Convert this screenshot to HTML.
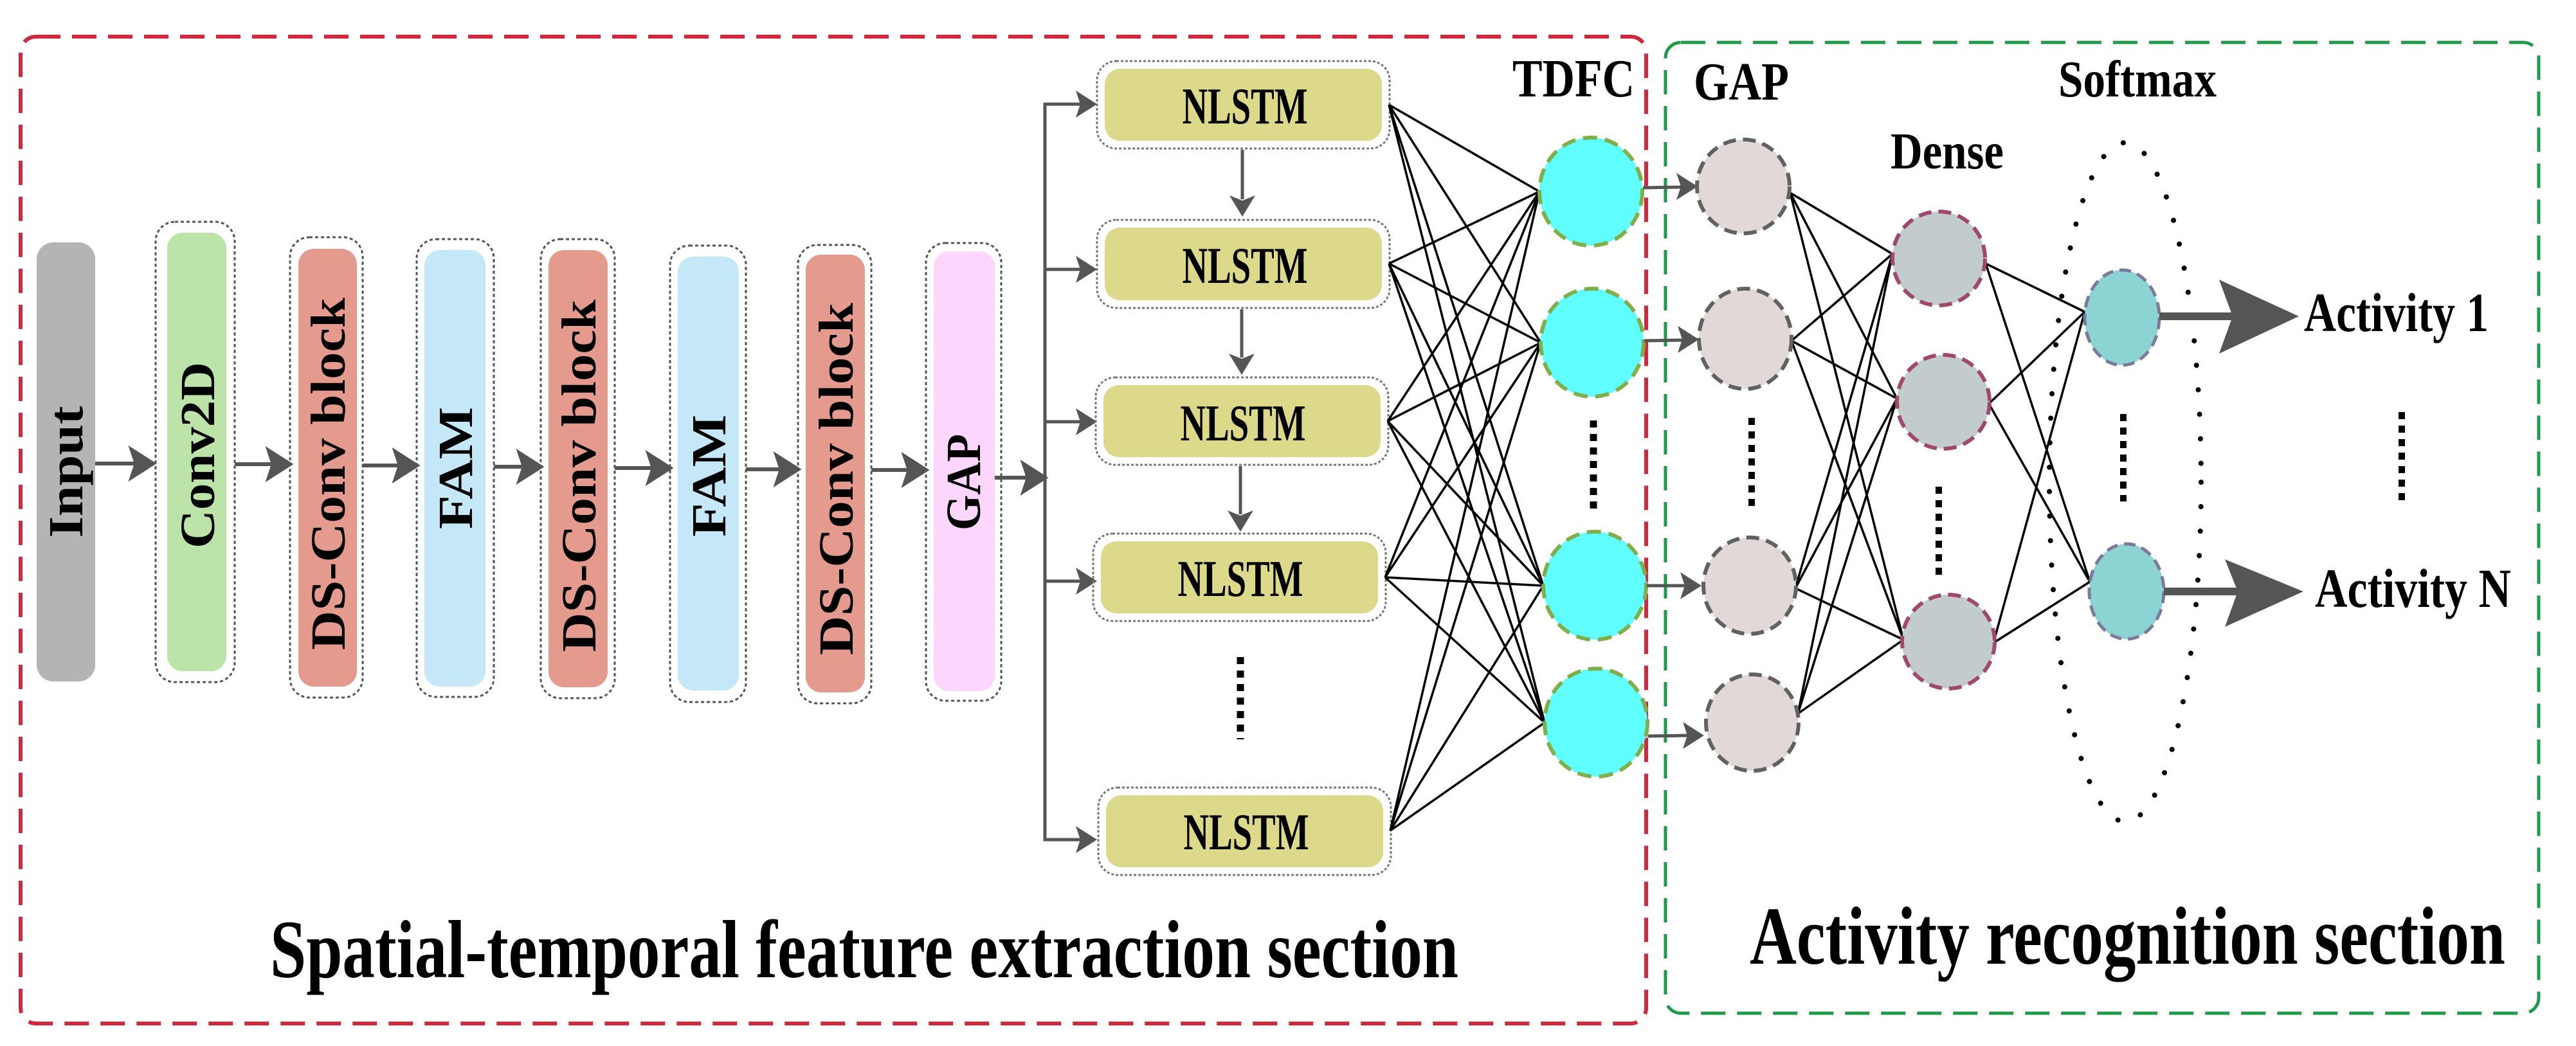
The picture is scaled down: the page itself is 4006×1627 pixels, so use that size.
<!DOCTYPE html>
<html><head><meta charset="utf-8"><style>html,body{margin:0;padding:0;background:#fff}svg{display:block}</style></head>
<body>
<svg width="4006" height="1627" viewBox="0 0 4006 1627" xmlns="http://www.w3.org/2000/svg" font-family="Liberation Serif, serif" font-weight="bold">
<defs>
<marker id="ah" markerWidth="10" markerHeight="10" refX="9" refY="5" orient="auto" markerUnits="userSpaceOnUse" viewBox="0 0 10 10" style="overflow:visible">
</marker>
</defs>
<rect width="4006" height="1627" fill="#fff"/>
<!-- section boxes -->
<rect x="32" y="57" width="2528" height="1535" rx="24" fill="none" stroke="#d0283c" stroke-width="6" stroke-dasharray="38 18"/>
<rect x="2590" y="66" width="1358" height="1510" rx="24" fill="none" stroke="#1f9a4a" stroke-width="5" stroke-dasharray="38 18"/>

<!-- vertical blocks -->
<rect x="57" y="377" width="91" height="683" rx="26" fill="#b4b4b4"/>
<rect x="242" y="345" width="123" height="716" rx="30" fill="none" stroke="#555" stroke-width="3" stroke-dasharray="5 4"/>
<rect x="260" y="362" width="92" height="682" rx="24" fill="#bde4a8"/>
<rect x="451" y="369" width="113" height="716" rx="30" fill="none" stroke="#555" stroke-width="3" stroke-dasharray="5 4"/>
<rect x="464" y="387" width="91" height="681" rx="24" fill="#e59a8e"/>
<rect x="648" y="372" width="120" height="712" rx="30" fill="none" stroke="#555" stroke-width="3" stroke-dasharray="5 4"/>
<rect x="660" y="389" width="95" height="679" rx="24" fill="#c4e8f7"/>
<rect x="841" y="372" width="115" height="714" rx="30" fill="none" stroke="#555" stroke-width="3" stroke-dasharray="5 4"/>
<rect x="853" y="389" width="92" height="680" rx="24" fill="#e59a8e"/>
<rect x="1042" y="382" width="118" height="710" rx="30" fill="none" stroke="#555" stroke-width="3" stroke-dasharray="5 4"/>
<rect x="1054" y="399" width="95" height="675" rx="24" fill="#c4e8f7"/>
<rect x="1241" y="381" width="114" height="713" rx="30" fill="none" stroke="#555" stroke-width="3" stroke-dasharray="5 4"/>
<rect x="1253" y="396" width="92" height="681" rx="24" fill="#e59a8e"/>
<rect x="1440" y="378" width="117" height="712" rx="30" fill="none" stroke="#555" stroke-width="3" stroke-dasharray="5 4"/>
<rect x="1452" y="391" width="95" height="684" rx="24" fill="#fcd6fc"/>

<g font-size="76" fill="#000" text-anchor="middle">
<text transform="translate(128,734) rotate(-90)" textLength="205" lengthAdjust="spacingAndGlyphs">Input</text>
<text transform="translate(333,708) rotate(-90)" textLength="290" lengthAdjust="spacingAndGlyphs">Conv2D</text>
<text transform="translate(536,737) rotate(-90)" textLength="548" lengthAdjust="spacingAndGlyphs">DS-Conv block</text>
<text transform="translate(734,728) rotate(-90)" textLength="190" lengthAdjust="spacingAndGlyphs">FAM</text>
<text transform="translate(926,740) rotate(-90)" textLength="548" lengthAdjust="spacingAndGlyphs">DS-Conv block</text>
<text transform="translate(1128,740) rotate(-90)" textLength="190" lengthAdjust="spacingAndGlyphs">FAM</text>
<text transform="translate(1326,745) rotate(-90)" textLength="548" lengthAdjust="spacingAndGlyphs">DS-Conv block</text>
<text transform="translate(1524,750) rotate(-90)" textLength="150" lengthAdjust="spacingAndGlyphs">GAP</text>
</g>

<!-- horizontal arrows -->
<g stroke="#555" stroke-width="6" fill="#555">
<line x1="148" y1="721" x2="215" y2="721"/><path d="M238 721 L205 700 L212 721 L205 742Z"/>
<line x1="365" y1="722" x2="428" y2="722"/><path d="M451 722 L418 701 L425 722 L418 743Z"/>
<line x1="564" y1="724" x2="625" y2="724"/><path d="M648 724 L615 703 L622 724 L615 745Z"/>
<line x1="768" y1="726" x2="818" y2="726"/><path d="M841 726 L808 705 L815 726 L808 747Z"/>
<line x1="956" y1="728" x2="1019" y2="728"/><path d="M1042 728 L1009 707 L1016 728 L1009 749Z"/>
<line x1="1160" y1="730" x2="1218" y2="730"/><path d="M1241 730 L1208 709 L1215 730 L1208 751Z"/>
<line x1="1355" y1="731" x2="1417" y2="731"/><path d="M1440 731 L1407 710 L1414 731 L1407 752Z"/>
<line x1="1547" y1="743" x2="1602" y2="743"/><path d="M1625 743 L1592 722 L1599 743 L1592 764Z"/>
</g>
<!-- trunk -->
<g stroke="#555" stroke-width="5" fill="#555">
<polyline points="1700,162 1625,162 1625,1306 1700,1306" fill="none"/>
<line x1="1625" y1="419" x2="1690" y2="419"/>
<line x1="1625" y1="656" x2="1690" y2="656"/>
<line x1="1625" y1="904" x2="1690" y2="904"/>
</g>
<g fill="#555">
<path d="M1706 162 L1673 141 L1680 162 L1673 183Z"/>
<path d="M1706 419 L1673 398 L1680 419 L1673 440Z"/>
<path d="M1706 656 L1673 635 L1680 656 L1673 677Z"/>
<path d="M1706 904 L1673 883 L1680 904 L1673 925Z"/>
<path d="M1706 1306 L1673 1285 L1680 1306 L1673 1327Z"/>
</g>

<!-- NLSTM boxes -->
<g>
<rect x="1706" y="95" width="455" height="136" rx="30" fill="none" stroke="#777" stroke-width="3" stroke-dasharray="4 3"/>
<rect x="1718" y="107" width="431" height="112" rx="24" fill="#dcd98a"/>
<rect x="1706" y="342" width="455" height="137" rx="30" fill="none" stroke="#777" stroke-width="3" stroke-dasharray="4 3"/>
<rect x="1718" y="354" width="431" height="113" rx="24" fill="#dcd98a"/>
<rect x="1704" y="587" width="455" height="136" rx="30" fill="none" stroke="#777" stroke-width="3" stroke-dasharray="4 3"/>
<rect x="1716" y="599" width="431" height="112" rx="24" fill="#dcd98a"/>
<rect x="1700" y="830" width="455" height="136" rx="30" fill="none" stroke="#777" stroke-width="3" stroke-dasharray="4 3"/>
<rect x="1712" y="842" width="431" height="112" rx="24" fill="#dcd98a"/>
<rect x="1708" y="1225" width="455" height="136" rx="30" fill="none" stroke="#777" stroke-width="3" stroke-dasharray="4 3"/>
<rect x="1720" y="1237" width="431" height="112" rx="24" fill="#dcd98a"/>
</g>
<g font-size="80" text-anchor="middle" fill="#000">
<text x="1936" y="192" textLength="195" lengthAdjust="spacingAndGlyphs">NLSTM</text>
<text x="1936" y="440" textLength="195" lengthAdjust="spacingAndGlyphs">NLSTM</text>
<text x="1933" y="685" textLength="195" lengthAdjust="spacingAndGlyphs">NLSTM</text>
<text x="1929" y="927" textLength="195" lengthAdjust="spacingAndGlyphs">NLSTM</text>
<text x="1938" y="1321" textLength="195" lengthAdjust="spacingAndGlyphs">NLSTM</text>
</g>
<!-- down arrows -->
<g stroke="#555" stroke-width="5" fill="#555">
<line x1="1932" y1="233" x2="1932" y2="310"/><path d="M1932 337 L1912 304 L1932 312 L1952 304Z" stroke="none"/>
<line x1="1931" y1="481" x2="1931" y2="556"/><path d="M1931 583 L1911 550 L1931 558 L1951 550Z" stroke="none"/>
<line x1="1929" y1="725" x2="1929" y2="800"/><path d="M1929 827 L1909 794 L1929 802 L1949 794Z" stroke="none"/>
</g>
<line x1="1929" y1="1022" x2="1929" y2="1150" stroke="#000" stroke-width="11" stroke-dasharray="11 10"/>

<!-- NLSTM -> TDFC lines -->
<g stroke="#000" stroke-width="3.5" id="l1">
<line x1="2160" y1="163" x2="2394" y2="298"/><line x1="2160" y1="163" x2="2396" y2="533"/><line x1="2160" y1="163" x2="2400" y2="911"/><line x1="2160" y1="163" x2="2402" y2="1124"/>
<line x1="2160" y1="410" x2="2394" y2="298"/><line x1="2160" y1="410" x2="2396" y2="533"/><line x1="2160" y1="410" x2="2400" y2="911"/><line x1="2160" y1="410" x2="2402" y2="1124"/>
<line x1="2158" y1="655" x2="2394" y2="298"/><line x1="2158" y1="655" x2="2396" y2="533"/><line x1="2158" y1="655" x2="2400" y2="911"/><line x1="2158" y1="655" x2="2402" y2="1124"/>
<line x1="2154" y1="898" x2="2394" y2="298"/><line x1="2154" y1="898" x2="2396" y2="533"/><line x1="2154" y1="898" x2="2400" y2="911"/><line x1="2154" y1="898" x2="2402" y2="1124"/>
<line x1="2162" y1="1292" x2="2394" y2="298"/><line x1="2162" y1="1292" x2="2396" y2="533"/><line x1="2162" y1="1292" x2="2400" y2="911"/><line x1="2162" y1="1292" x2="2402" y2="1124"/>
</g>
<!-- TDFC circles -->
<g fill="#5ffdfd" stroke="#7fae4a" stroke-width="6" stroke-dasharray="22 12">
<ellipse cx="2474" cy="298" rx="80" ry="84"/>
<ellipse cx="2476" cy="533" rx="80" ry="84"/>
<ellipse cx="2480" cy="911" rx="80" ry="84"/>
<ellipse cx="2482" cy="1124" rx="80" ry="84"/>
</g>
<line x1="2478" y1="654" x2="2478" y2="794" stroke="#000" stroke-width="11" stroke-dasharray="11 10"/>
<text x="2447" y="150" font-size="84" text-anchor="middle" textLength="190" lengthAdjust="spacingAndGlyphs">TDFC</text>

<!-- TDFC -> GAP arrows -->
<g stroke="#555" stroke-width="5" fill="#555">
<line x1="2555" y1="292" x2="2615" y2="291"/><path d="M2640 290 L2607 269 L2614 290 L2607 311Z" stroke="none"/>
<line x1="2557" y1="530" x2="2617" y2="529"/><path d="M2642 528 L2609 507 L2616 528 L2609 549Z" stroke="none"/>
<line x1="2561" y1="911" x2="2621" y2="911"/><path d="M2646 911 L2613 890 L2620 911 L2613 932Z" stroke="none"/>
<line x1="2563" y1="1145" x2="2625" y2="1144"/><path d="M2650 1144 L2617 1123 L2624 1144 L2617 1165Z" stroke="none"/>
</g>

<!-- GAP -> Dense lines -->
<g stroke="#000" stroke-width="3.5">
<line x1="2784" y1="300" x2="2943" y2="395"/><line x1="2784" y1="300" x2="2950" y2="620"/><line x1="2784" y1="300" x2="2960" y2="995"/>
<line x1="2786" y1="530" x2="2943" y2="395"/><line x1="2786" y1="530" x2="2950" y2="620"/><line x1="2786" y1="530" x2="2960" y2="995"/>
<line x1="2792" y1="915" x2="2943" y2="395"/><line x1="2792" y1="915" x2="2950" y2="620"/><line x1="2792" y1="915" x2="2960" y2="995"/>
<line x1="2796" y1="1110" x2="2943" y2="395"/><line x1="2796" y1="1110" x2="2950" y2="620"/><line x1="2796" y1="1110" x2="2960" y2="995"/>
</g>
<!-- GAP circles -->
<g fill="#e2d8d8" stroke="#5e6260" stroke-width="6" stroke-dasharray="20 11">
<ellipse cx="2711" cy="290" rx="72" ry="73"/>
<ellipse cx="2714" cy="527" rx="72" ry="78"/>
<ellipse cx="2721" cy="911" rx="72" ry="75"/>
<ellipse cx="2725" cy="1124" rx="72" ry="75"/>
</g>
<line x1="2724" y1="650" x2="2724" y2="790" stroke="#000" stroke-width="10" stroke-dasharray="11 10"/>
<text x="2708" y="155" font-size="84" text-anchor="middle" textLength="148" lengthAdjust="spacingAndGlyphs">GAP</text>

<!-- Dense -> Softmax -->
<g stroke="#000" stroke-width="3.5">
<line x1="3088" y1="410" x2="3242" y2="485"/><line x1="3088" y1="410" x2="3250" y2="905"/>
<line x1="3093" y1="628" x2="3242" y2="485"/><line x1="3093" y1="628" x2="3250" y2="905"/>
<line x1="3100" y1="1000" x2="3242" y2="485"/><line x1="3100" y1="1000" x2="3250" y2="905"/>
</g>
<!-- Dense circles -->
<g fill="#c2cccc" stroke="#a0486e" stroke-width="6" stroke-dasharray="20 11">
<ellipse cx="3015" cy="402" rx="72" ry="73"/>
<ellipse cx="3022" cy="625" rx="72" ry="73"/>
<ellipse cx="3030" cy="998" rx="72" ry="73"/>
</g>
<line x1="3015" y1="757" x2="3015" y2="898" stroke="#000" stroke-width="10" stroke-dasharray="11 10"/>
<text x="3028" y="262" font-size="80" text-anchor="middle" textLength="176" lengthAdjust="spacingAndGlyphs">Dense</text>

<!-- Softmax ellipse -->
<ellipse cx="3305" cy="750" rx="118" ry="528" fill="none" stroke="#000" stroke-width="8" stroke-linecap="round" stroke-dasharray="0.1 38"/>
<g fill="#8cd3d3" stroke="#7b7a9b" stroke-width="5" stroke-dasharray="18 10">
<ellipse cx="3300" cy="494" rx="58" ry="74"/>
<ellipse cx="3307" cy="920" rx="58" ry="74"/>
</g>
<line x1="3302" y1="644" x2="3302" y2="780" stroke="#000" stroke-width="10" stroke-dasharray="11 10"/>
<text x="3324" y="150" font-size="80" text-anchor="middle" textLength="246" lengthAdjust="spacingAndGlyphs">Softmax</text>

<!-- big arrows -->
<g fill="#555">
<rect x="3358" y="486" width="120" height="12"/>
<path d="M3575 492 L3451 435 L3472 492 L3451 550Z"/>
<rect x="3365" y="914" width="120" height="12"/>
<path d="M3582 920 L3460 870 L3480 920 L3460 975Z"/>
</g>
<g font-size="86">
<text x="3583" y="515" textLength="287" lengthAdjust="spacingAndGlyphs">Activity 1</text>
<text x="3600" y="944" textLength="305" lengthAdjust="spacingAndGlyphs">Activity N</text>
</g>
<line x1="3735" y1="641" x2="3735" y2="787" stroke="#000" stroke-width="10" stroke-dasharray="11 10"/>

<!-- section titles -->
<text x="420" y="1520" font-size="128" textLength="1848" lengthAdjust="spacingAndGlyphs">Spatial-temporal feature extraction section</text>
<text x="2721" y="1499" font-size="128" textLength="1175" lengthAdjust="spacingAndGlyphs">Activity recognition section</text>
</svg>
</body></html>
